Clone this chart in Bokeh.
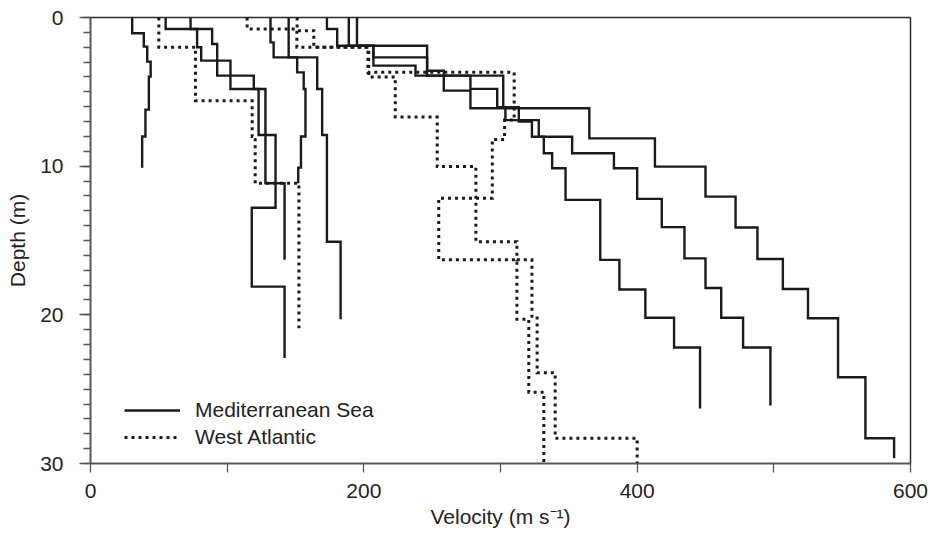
from bokeh.plotting import figure
from bokeh.models import Range1d, FixedTicker, Legend, LegendItem
from bokeh.embed import file_html
from bokeh.resources import INLINE

# ---------------- data (velocity m/s, depth m) ----------------
# Mediterranean Sea profiles (solid): depth breakpoints and velocity per layer
med1_depth = [0, 1.06, 1.96, 2.97, 3.98, 6.2, 8.0, 10.1]
med1_vel = [30.5, 39, 41.5, 44, 42.7, 40.2, 37.8]

med2_depth = [0, 0.77, 2.0, 2.9, 3.91, 4.81, 7.9, 12.8, 18.1, 22.9]
med2_vel = [55, 78, 81, 92.7, 102.4, 123, 135.4, 118, 142]

med3_depth = [0, 0.77, 1.78, 2.9, 3.91, 4.81, 11.15, 16.3]
med3_vel = [73.2, 89, 92.7, 102.4, 119.5, 128, 142]

med4_depth = [0, 1.67, 2.68, 3.69, 4.81, 8.0, 10.1, 11.15]
med4_vel = [131.7, 134, 151.2, 156, 157.3, 154, 152]

med5_depth = [0, 2.68, 4.81, 7.9, 15.08, 20.3]
med5_vel = [145, 165.9, 169.5, 173, 183]

med6_depth = [0, 0.77, 1.9, 2.68, 3.91, 6.04, 7.0, 8.02, 9.13, 10.14, 12.27, 16.3, 18.3, 20.2, 22.2, 26.3]
med6_vel = [173, 180.5, 207, 246.3, 302, 313.4, 323, 331.7, 337.8, 347.6, 373, 387, 406, 427, 446]

med7_depth = [0, 1.9, 3.24, 3.91, 4.8, 6.04, 6.9, 8.02, 9.13, 10.14, 12.2, 14.1, 16.2, 18.2, 20.2, 22.2, 26.1]
med7_vel = [189, 207, 237.8, 278, 297.6, 303.6, 328, 352.4, 383, 400, 418, 434.6, 450, 461.5, 477.5, 497.5]

med8_depth = [0, 1.9, 3.58, 4.92, 6.1, 8.13, 10.03, 12.05, 14.13, 16.24, 18.26, 20.23, 24.2, 28.3, 29.65]
med8_vel = [195, 246.3, 258.5, 278, 365, 413, 450, 472, 488, 506.6, 525, 547, 567, 588]

# West Atlantic profiles (dotted)
wa1_depth = [0, 2.0, 5.6, 8.0, 11.15, 20.9]
wa1_vel = [50, 76.8, 118.3, 120.5, 152.5]

wa2_depth = [0, 0.77, 2.0, 3.69, 6.9, 8.2, 12.16, 16.3, 20.3, 25.2, 30]
wa2_vel = [114.6, 151, 203, 310, 303, 294, 254.8, 312, 320.7, 331.7]

wa3_depth = [0, 0.89, 2.0, 4.0, 6.7, 10.03, 15.08, 16.3, 20.1, 23.9, 28.3, 30]
wa3_vel = [151.2, 163.4, 203.6, 223, 253.7, 282, 312, 323, 326.8, 340, 400]

med_profiles = [(med1_depth, med1_vel), (med2_depth, med2_vel), (med3_depth, med3_vel),
                (med4_depth, med4_vel), (med5_depth, med5_vel), (med6_depth, med6_vel),
                (med7_depth, med7_vel), (med8_depth, med8_vel)]
wa_profiles = [(wa1_depth, wa1_vel), (wa2_depth, wa2_vel), (wa3_depth, wa3_vel)]

x_ticks = [0, 200, 400, 600]
x_minor = [100, 300, 500]
y_ticks = [0, 10, 20, 30]
y_minor = list(range(0, 31))

series_names = ["Mediterranean Sea", "West Atlantic"]


def step_path(depths, vels):
    xs, ys = [], []
    for i, v in enumerate(vels):
        xs += [v, v]
        ys += [depths[i], depths[i + 1]]
    return xs, ys


FONT = "Liberation Sans"
INK = "#1a1a1a"

p = figure(width=930, height=540, output_backend="svg", toolbar_location=None,
           x_range=Range1d(0, 600), y_range=Range1d(30, 0),
           min_border_left=90, min_border_right=20, min_border_top=17, min_border_bottom=77)
p.xgrid.visible = False
p.ygrid.visible = False
p.outline_line_color = "#2a2a2a"
p.outline_line_width = 1.5
p.background_fill_color = "white"
p.border_fill_color = "white"

med_renderers = []
for d, v in med_profiles:
    xs, ys = step_path(d, v)
    r = p.line(xs, ys, line_color=INK, line_width=2.4, line_join="miter", line_cap="butt")
    med_renderers.append(r)

wa_renderers = []
for d, v in wa_profiles:
    xs, ys = step_path(d, v)
    r = p.line(xs, ys, line_color=INK, line_width=3, line_dash="3 4", line_join="miter")
    wa_renderers.append(r)

# axes
p.xaxis.ticker = FixedTicker(ticks=x_ticks, minor_ticks=x_minor)
p.yaxis.ticker = FixedTicker(ticks=y_ticks, minor_ticks=y_minor)
for ax in (p.xaxis[0], p.yaxis[0]):
    ax.axis_line_color = "#555555"
    ax.axis_line_width = 1.5
    ax.major_tick_line_color = "#555555"
    ax.minor_tick_line_color = "#555555"
    ax.major_tick_line_width = 1.3
    ax.minor_tick_line_width = 1.3
    ax.major_tick_in = 0
    ax.minor_tick_in = 0
    ax.major_label_text_font = FONT
    ax.major_label_text_font_size = "21px"
    ax.major_label_text_color = "#222222"
    ax.axis_label_text_font = FONT
    ax.axis_label_text_font_size = "21px"
    ax.axis_label_text_font_style = "normal"
    ax.axis_label_text_color = "#222222"

p.xaxis.major_tick_out = 9
p.xaxis.minor_tick_out = 9
p.xaxis.major_label_standoff = 11
p.xaxis.axis_label = "Velocity (m s\u207b\u00b9)"
p.xaxis.axis_label_standoff = 4

p.yaxis.major_tick_out = 11
p.yaxis.minor_tick_out = 7
p.yaxis.major_label_standoff = 16
p.yaxis.axis_label = "Depth (m)"
p.yaxis.axis_label_standoff = 8

legend = Legend(items=[LegendItem(label=series_names[0], renderers=[med_renderers[0]]),
                       LegendItem(label=series_names[1], renderers=[wa_renderers[0]])],
                location=(34, 14), orientation="vertical",
                padding=0, margin=0, spacing=3,
                glyph_width=56, glyph_height=22, label_height=22, label_standoff=15,
                label_text_font=FONT, label_text_font_size="21px", label_text_color="#222222",
                border_line_alpha=0, background_fill_alpha=0)
p.add_layout(legend, "center")

open("out.html", "w").write(file_html(p, INLINE))
